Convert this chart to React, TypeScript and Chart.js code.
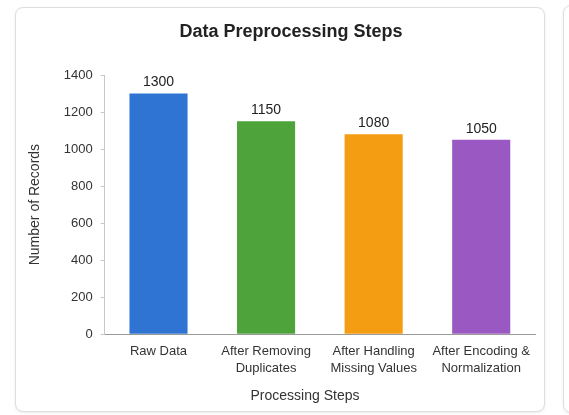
import React, { useEffect, useRef } from "react";
import { Chart, registerables } from "chart.js";

Chart.register(...registerables);

const chartTitle = "Data Preprocessing Steps";
const xAxisTitle = "Processing Steps";
const yAxisTitle = "Number of Records";
const categories: string[][] = [
  ["Raw Data"],
  ["After Removing", "Duplicates"],
  ["After Handling", "Missing Values"],
  ["After Encoding &", "Normalization"],
];
const recordCounts = [1300, 1150, 1080, 1050];
const barColors = ["#2f74d2", "#4ea33b", "#f59d12", "#9a58c2"];
const yMin = 0;
const yMax = 1400;
const yStep = 200;

const FONT = '"Liberation Sans", Arial, Helvetica, sans-serif';

const valueLabels = {
  id: "valueLabels",
  afterDatasetsDraw(chart: any) {
    const ctx = chart.ctx;
    const meta = chart.getDatasetMeta(0);
    const data = chart.data.datasets[0].data as number[];
    ctx.save();
    ctx.font = `14px ${FONT}`;
    ctx.fillStyle = "#222";
    ctx.textAlign = "center";
    ctx.textBaseline = "bottom";
    meta.data.forEach((bar: any, i: number) => {
      ctx.fillText(String(data[i]), bar.x, bar.y - 4);
    });
    ctx.restore();
  },
};

export default function App() {
  const canvasRef = useRef<HTMLCanvasElement | null>(null);

  useEffect(() => {
    if (!canvasRef.current) return;
    const chart = new Chart(canvasRef.current, {
      type: "bar",
      data: {
        labels: categories,
        datasets: [
          {
            data: recordCounts,
            backgroundColor: barColors,
            borderWidth: 0,
            categoryPercentage: 1,
            barPercentage: 0.54,
          },
        ],
      },
      options: {
        responsive: false,
        animation: false,
        devicePixelRatio: 1,
        layout: { padding: { left: 11, right: 8, top: 67, bottom: 25 } },
        plugins: {
          legend: { display: false },
          tooltip: { enabled: false },
          title: { display: false },
        },
        scales: {
          x: {
            grid: { display: false, drawTicks: false },
            border: { display: true, color: "#9a9a9a", width: 1 },
            ticks: {
              color: "#333",
              padding: 9,
              maxRotation: 0,
              autoSkip: false,
              font: { family: FONT, size: 13, lineHeight: 1.3 },
            },
          },
          y: {
            min: yMin,
            max: yMax,
            grid: {
              display: true,
              drawOnChartArea: false,
              drawTicks: true,
              tickLength: 4,
              color: "#c8c8c8",
            },
            border: { display: true, color: "#c8c8c8", width: 1 },
            ticks: {
              stepSize: yStep,
              color: "#333",
              padding: 8,
              font: { family: FONT, size: 13 },
              callback: (v: any) => String(v),
            },
            title: {
              display: true,
              text: yAxisTitle,
              color: "#333",
              padding: { top: 0, bottom: 12 },
              font: { family: FONT, size: 14 },
            },
          },
        },
      },
      plugins: [valueLabels],
    });
    return () => chart.destroy();
  }, []);

  return (
    <div
      style={{
        position: "fixed",
        left: 0,
        top: 0,
        width: 569,
        height: 415,
        overflow: "hidden",
        background: "#fff",
        fontFamily: FONT,
      }}
    >
      <div
        style={{
          position: "absolute",
          left: 15,
          top: 7,
          width: 530,
          height: 405,
          border: "1px solid #dedede",
          borderRadius: 8,
          boxSizing: "border-box",
          boxShadow: "0 1px 3px rgba(0,0,0,0.08)",
          background: "#fff",
        }}
      />
      <div
        style={{
          position: "absolute",
          left: 563,
          top: 5,
          width: 40,
          height: 408,
          border: "1px solid #dedede",
          borderRadius: 8,
          boxSizing: "border-box",
          boxShadow: "0 1px 3px rgba(0,0,0,0.08)",
          background: "#fff",
        }}
      />
      <canvas
        ref={canvasRef}
        width={527}
        height={403}
        style={{ position: "absolute", left: 16, top: 8, width: 527, height: 403 }}
      />
      <div
        style={{
          position: "absolute",
          left: 141,
          width: 300,
          top: 21,
          height: 20,
          lineHeight: "20px",
          textAlign: "center",
          fontWeight: "bold",
          fontSize: 18,
          color: "#222",
        }}
      >
        {chartTitle}
      </div>
      <div
        style={{
          position: "absolute",
          left: 205,
          width: 200,
          top: 386,
          height: 18,
          lineHeight: "18px",
          textAlign: "center",
          fontSize: 14,
          color: "#333",
        }}
      >
        {xAxisTitle}
      </div>
    </div>
  );
}
